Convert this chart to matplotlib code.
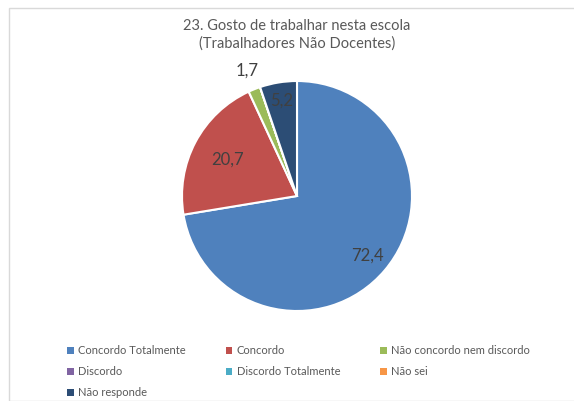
import numpy as np
import matplotlib.pyplot as plt
from matplotlib.patches import Rectangle, Patch

plt.rcParams['font.family'] = ['Lato', 'DejaVu Sans']

categories = ['Concordo Totalmente', 'Concordo', 'Não concordo nem discordo',
              'Discordo', 'Discordo Totalmente', 'Não sei', 'Não responde']
values = [72.4, 20.7, 1.7, 0.0, 0.0, 0.0, 5.2]
colours = ['#4F81BD', '#C0504D', '#9BBB59', '#8064A2', '#4BACC6', '#F79646', '#2C4D75']
# how far from the centre each value label sits (fraction of radius)
label_dist = [0.80, 0.68, 1.17, 0, 0, 0, 0.84]

W, H = 574, 401
fig = plt.figure(figsize=(W / 100, H / 100), dpi=100)

# light chart border like the spreadsheet chart
fig.patches.append(Rectangle((9 / W, 0), 1.2, 1 - 8 / H, transform=fig.transFigure,
                             fill=False, edgecolor='#D9D9D9', linewidth=1))

fig.text(297 / W, 1 - 35 / H, '23. Gosto de trabalhar nesta escola\n(Trabalhadores Não Docentes)',
         ha='center', va='center', fontsize=10.5, color='#595959', linespacing=1.35)

cx, cy, r = 297, 196, 115
ax = fig.add_axes([(cx - r) / W, (H - cy - r) / H, 2 * r / W, 2 * r / H])
wedges, _ = ax.pie(values, colors=colours, startangle=90, counterclock=False,
                   radius=1, wedgeprops=dict(edgecolor='white', linewidth=1.5))
ax.set_xlim(-1, 1)
ax.set_ylim(-1, 1)
ax.set_aspect('equal')
ax.axis('off')

for w, v, d in zip(wedges, values, label_dist):
    if v == 0:
        continue
    ang = np.deg2rad((w.theta1 + w.theta2) / 2)
    ax.text(d * np.cos(ang), d * np.sin(ang), f'{v:.1f}'.replace('.', ','),
            ha='center', va='center', fontsize=12, color='#404040', clip_on=False)

handles = [Patch(facecolor=c, edgecolor='none') for c in colours]
order = [0, 3, 6, 1, 4, 2, 5]
fig.legend([handles[i] for i in order], [categories[i] for i in order],
           ncol=3, loc='upper left', bbox_to_anchor=(67 / W, 1 - 345 / H),
           frameon=False, fontsize=8, labelcolor='#595959',
           handlelength=0.6, handleheight=0.6, handletextpad=0.4,
           columnspacing=3.6, labelspacing=0.9, borderaxespad=0, borderpad=0)

fig.savefig('out.png', dpi=100)
